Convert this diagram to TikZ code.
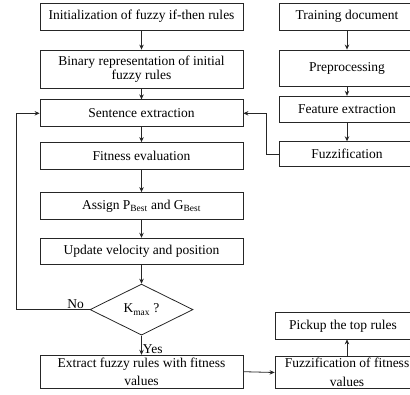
\documentclass[tikz,border=0pt]{standalone}
\usepackage{fontspec}
\setmainfont{Liberation Serif}
\usetikzlibrary{arrows.meta,shapes.geometric}
\begin{document}
\begin{tikzpicture}[x=1pt,y=-1pt,
  box/.style={draw=black!85, line width=0.8pt, rectangle, inner sep=0pt, align=center,
    font=\fontsize{13.5}{15}\selectfont},
  arr/.style={line width=0.8pt, draw=black!85, -{Stealth[length=5pt,width=4.5pt]}},
  ln/.style={line width=0.8pt, draw=black!85},
  lbl/.style={font=\fontsize{13.5}{15}\selectfont, inner sep=1pt}]
\useasboundingbox (0,0) rectangle (410,394);
% left column
\node[box, minimum width=203pt, minimum height=27pt] (init) at (141.5,16.5) {Initialization of fuzzy if-then rules};
\node[box, minimum width=203pt, minimum height=38pt, font=\fontsize{13.5}{12}\selectfont] (bin) at (141.5,69) {Binary representation of initial\\fuzzy rules};
\node[box, minimum width=203pt, minimum height=27pt] (sent) at (141.5,113.3) {Sentence extraction};
\node[box, minimum width=203pt, minimum height=27pt] (fit) at (141.5,156) {Fitness evaluation};
\node[box, minimum width=203pt, minimum height=27pt] (asg) at (141.5,206) {Assign P\textsubscript{Best} and G\textsubscript{Best}};
\node[box, minimum width=203pt, minimum height=26pt] (upd) at (141.5,251.2) {Update velocity and position};
\node[draw=black!85, line width=0.8pt, diamond, aspect=2.02, minimum width=103pt, minimum height=51pt, inner sep=0pt, font=\fontsize{13.5}{15}\selectfont] (kmax) at (141.5,309.6) {K\textsubscript{max} ?};
\node[box, minimum width=203pt, minimum height=33pt, font=\fontsize{13.5}{18.5}\selectfont] (ext) at (141.5,371.7) {Extract fuzzy rules with fitness\\values};
% right column
\node[box, minimum width=136pt, minimum height=27pt] (train) at (347,16.5) {Training document};
\node[box, minimum width=136pt, minimum height=36.7pt] (prep) at (347,68.3) {Preprocessing};
\node[box, minimum width=136pt, minimum height=26pt] (feat) at (347,109.2) {Feature extraction};
\node[box, minimum width=136pt, minimum height=25pt] (fuzz) at (347,154.2) {Fuzzification};
\node[box, minimum width=144pt, minimum height=26.3pt] (pick) at (347,325.8) {\hspace*{-8pt}Pickup the top rules};
\node[box, minimum width=144pt, minimum height=31.6pt, font=\fontsize{13.5}{18.5}\selectfont] (ffit) at (347,372.5) {Fuzzification of fitness\\values};
% helper coordinates
\coordinate (lp) at (16,0);
\coordinate (rp) at (266.7,0);
% connectors
\draw[arr] (init) -- (bin);
\draw[arr] (bin) -- (sent);
\draw[arr] (sent) -- (fit);
\draw[arr] (fit) -- (asg);
\draw[arr] (asg) -- (upd);
\draw[arr] (upd) -- (kmax);
\draw[arr] (kmax) -- node[lbl, right, pos=0.72] {Yes} (ext);
\draw[arr] (train) -- (prep);
\draw[arr] (prep) -- (feat);
\draw[arr] (feat) -- (fuzz);
\draw[arr] (fuzz.west) -- (fuzz.west -| rp) |- (sent.east);
\draw[arr] (kmax.west) -- node[lbl, above, pos=0.19] {No} (kmax.west -| lp) |- (sent.west);
\draw[arr] (ext.east) -- (ffit.west);
\draw[arr] (ffit) -- (pick);
\end{tikzpicture}
\end{document}
